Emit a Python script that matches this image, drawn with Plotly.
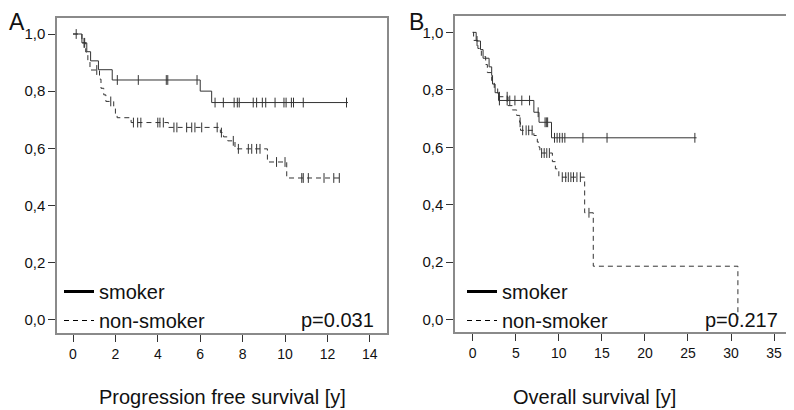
import plotly.graph_objects as go

# ---------------- Data ----------------
# Panel A: progression free survival (years)
a_smoker_t = [0, 0.42, 0.65, 0.83, 1.2, 1.85, 6.0, 6.54, 12.97]
a_smoker_s = [1.0, 0.969, 0.938, 0.906, 0.875, 0.839, 0.80, 0.76, 0.76]
a_smoker_cens = [0.15, 0.55, 2.09, 3.08, 4.4, 4.47, 5.85, 6.7, 7.09, 7.6, 7.75, 7.84,
                 8.5, 8.66, 8.93, 9.09, 9.53, 9.95, 10.05, 10.3, 10.4, 10.86, 12.9]

a_non_t = [0, 0.42, 0.6, 0.7, 0.8, 1.25, 1.32, 1.45, 1.55, 1.92, 2.0, 2.08, 2.74,
           4.5, 6.95, 7.1, 7.3, 7.64, 9.17, 10.08, 12.56]
a_non_s = [1.0, 0.969, 0.937, 0.906, 0.874, 0.842, 0.81, 0.787, 0.764, 0.74, 0.72,
           0.707, 0.69, 0.673, 0.655, 0.64, 0.626, 0.598, 0.552, 0.496, 0.496]
a_non_cens = [0.52, 1.12, 1.78, 2.85, 3.05, 3.2, 4.0, 4.1, 4.26, 4.76, 4.9, 5.36, 5.6,
              5.75, 6.07, 6.8, 7.0, 7.56, 7.8, 8.27, 8.43, 8.66, 8.82, 9.6, 10.0,
              10.79, 10.86, 11.1, 11.84, 12.3, 12.56]

# Panel B: overall survival (years)
b_smoker_t = [0, 0.4, 0.9, 1.2, 1.9, 2.2, 2.3, 2.6, 3.0, 7.1, 7.7, 9.15, 26.0]
b_smoker_s = [1.0, 0.97, 0.94, 0.91, 0.88, 0.85, 0.82, 0.79, 0.763, 0.722, 0.687, 0.633, 0.633]
b_smoker_cens = [0.5, 3.1, 4.0, 4.3, 4.9, 5.7, 6.6, 7.6, 8.4, 8.55, 8.7, 9.5, 9.8, 10.1,
                 10.4, 10.7, 12.8, 15.6, 25.8]

b_non_t = [0, 0.1, 0.6, 1.0, 1.5, 1.7, 2.2, 2.5, 2.9, 4.1, 4.6, 5.1, 5.45, 5.55, 7.1,
           7.5, 7.7, 7.8, 9.25, 9.6, 10.0, 13.0, 14.0, 30.8]
b_non_s = [1.0, 0.972, 0.944, 0.916, 0.888, 0.86, 0.832, 0.804, 0.776, 0.745, 0.73,
           0.711, 0.687, 0.659, 0.641, 0.618, 0.60, 0.58, 0.55, 0.525, 0.496, 0.372,
           0.186, 0.0]
b_non_cens = [3.1, 4.0, 5.5, 5.8, 6.2, 6.5, 6.9, 8.0, 8.3, 8.6, 8.9, 10.4, 10.8, 11.1,
              11.4, 11.7, 12.1, 12.5, 13.5]

y_tickvals = [0.0, 0.2, 0.4, 0.6, 0.8, 1.0]
y_ticktext = ["0,0", "0,2", "0,4", "0,6", "0,8", "1,0"]
a_xticks = [0, 2, 4, 6, 8, 10, 12, 14]
b_xticks = [0, 5, 10, 15, 20, 25, 30, 35]

labels = ["smoker", "non-smoker"]
p_values = ["p=0.031", "p=0.217"]
x_titles = ["Progression free survival [y]", "Overall survival [y]"]
panel_letters = ["A", "B"]

# ---------------- Helpers ----------------
def surv_at(ts, ss, t):
    v = ss[0]
    for ti, si in zip(ts, ss):
        if ti <= t:
            v = si
    return v

LINE = "#333333"
FONT = "Liberation Sans, Arial, sans-serif"
DASH = "5px,4px"

# page has an 8px body margin: figure drawn from (8, 8)
OFF = 8
W, H = 794 - OFF, 410 - OFF

def px(xr):   # screen x -> paper x
    return (xr - OFF) / W

def py(yr):   # screen y -> paper y
    return (H - (yr - OFF)) / H

fig = go.Figure()

def add_curve(ts, ss, cens, xa, ya, dashed):
    fig.add_trace(go.Scatter(
        x=ts, y=ss, mode="lines", line=dict(shape="hv", color=LINE, width=1,
                                           dash=DASH if dashed else "solid"),
        xaxis=xa, yaxis=ya, showlegend=False, hoverinfo="skip"))
    fig.add_trace(go.Scatter(
        x=cens, y=[surv_at(ts, ss, c) for c in cens], mode="markers",
        marker=dict(symbol="line-ns-open", size=7, color=LINE,
                    line=dict(color=LINE, width=1)),
        xaxis=xa, yaxis=ya, showlegend=False, hoverinfo="skip"))

add_curve(a_smoker_t, a_smoker_s, a_smoker_cens, "x", "y", False)
add_curve(a_non_t, a_non_s, a_non_cens, "x", "y", True)
add_curve(b_smoker_t, b_smoker_s, b_smoker_cens, "x2", "y2", False)
add_curve(b_non_t, b_non_s, b_non_cens, "x2", "y2", True)

# legend-only traces
for leg, xa, ya in [("legend", "x", "y"), ("legend2", "x2", "y2")]:
    fig.add_trace(go.Scatter(x=[None], y=[None], mode="lines", name=labels[0],
                             line=dict(color="black", width=3), xaxis=xa, yaxis=ya,
                             legend=leg))
    fig.add_trace(go.Scatter(x=[None], y=[None], mode="lines", name=labels[1],
                             line=dict(color="black", width=1.2, dash=DASH),
                             xaxis=xa, yaxis=ya, legend=leg))

axis_common = dict(showgrid=False, zeroline=False, showline=True, mirror=True,
                   linecolor="#8a8a8a", linewidth=1.5, ticks="outside", ticklen=7,
                   tickcolor=LINE, tickwidth=1,
                   tickfont=dict(family=FONT, size=14, color="#111"))

fig.update_layout(
    width=W, height=H, margin=dict(l=0, r=0, t=0, b=0), autosize=False,
    paper_bgcolor="white", plot_bgcolor="white",
    xaxis=dict(axis_common, domain=[px(57), px(387)], range=[-0.755, 14.81],
               tickvals=a_xticks, anchor="y"),
    yaxis=dict(axis_common, domain=[py(333), py(18)], range=[-0.0466, 1.056],
               tickvals=y_tickvals, ticktext=y_ticktext, anchor="x",
               tickfont=dict(family=FONT, size=15, color="#111")),
    xaxis2=dict(axis_common, domain=[px(455), px(789.3)], range=[-2.06, 36.77],
                tickvals=b_xticks, anchor="y2"),
    yaxis2=dict(axis_common, domain=[py(332), py(16)], range=[-0.043, 1.057],
                tickvals=y_tickvals, ticktext=y_ticktext, anchor="x2",
                tickfont=dict(family=FONT, size=15, color="#111")),
    legend=dict(x=px(59), y=py(340), xanchor="left", yanchor="bottom",
                bgcolor="rgba(0,0,0,0)", font=dict(family=FONT, size=20, color="#111"),
                tracegroupgap=0, itemwidth=30),
    legend2=dict(x=px(462), y=py(340), xanchor="left", yanchor="bottom",
                 bgcolor="rgba(0,0,0,0)", font=dict(family=FONT, size=20, color="#111"),
                 tracegroupgap=0, itemwidth=30),
    showlegend=True,
)

font20 = dict(family=FONT, size=20, color="#111")
font_letter = dict(family=FONT, size=23, color="#111")
annos = [
    dict(text=p_values[0], xref="paper", yref="paper", x=px(376), y=py(320),
         xanchor="right", yanchor="middle", showarrow=False, font=font20),
    dict(text=p_values[1], xref="paper", yref="paper", x=px(780), y=py(320),
         xanchor="right", yanchor="middle", showarrow=False, font=font20),
    dict(text=x_titles[0], xref="paper", yref="paper", x=px(222.5), y=py(397),
         xanchor="center", yanchor="middle", showarrow=False, font=font20),
    dict(text=x_titles[1], xref="paper", yref="paper", x=px(594.7), y=py(397),
         xanchor="center", yanchor="middle", showarrow=False, font=font20),
    dict(text=panel_letters[0], xref="paper", yref="paper", x=0, y=1,
         xanchor="left", yanchor="top", borderpad=0, showarrow=False, font=font_letter),
    dict(text=panel_letters[1], xref="paper", yref="paper", x=px(416.5), y=1,
         xanchor="center", yanchor="top", borderpad=0, showarrow=False, font=font_letter),
]
fig.update_layout(annotations=annos)

fig.write_html("out.html")
